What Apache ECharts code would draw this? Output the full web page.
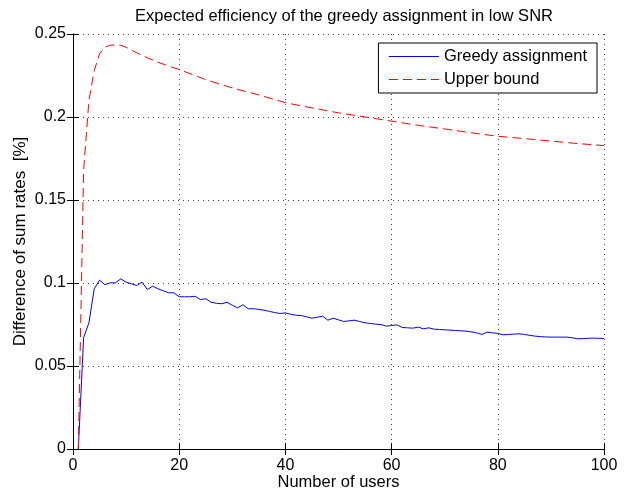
<!DOCTYPE html>
<html lang="en">
<head>
    <meta charset="UTF-8">
    <title>Expected efficiency of the greedy assignment</title>
    <script src="https://cdn.jsdelivr.net/npm/echarts@6/dist/echarts.min.js"></script>
</head>
<body style="margin:0;background:#fff;">
    <div id="chart" style="width:626px;height:491px;"></div>
    <script>
        // x values: number of users
        var users = Array.from({ length: 100 }, (_, i) => i + 1);
        // Greedy assignment, one value per user count
        var greedy = [
            0, 0.067, 0.076, 0.0965, 0.1017, 0.099, 0.1001, 0.1001, 0.1025, 0.1005,
            0.0995, 0.0985, 0.1005, 0.0961, 0.0981, 0.0965, 0.0953, 0.0941, 0.0941, 0.0917,
            0.0917, 0.0917, 0.092, 0.09, 0.0905, 0.0884, 0.0878, 0.0875, 0.0884, 0.0866,
            0.085, 0.0869, 0.0845, 0.0845, 0.0841, 0.0836, 0.0829, 0.0822, 0.0816, 0.082,
            0.0812, 0.0806, 0.0804, 0.0796, 0.0788, 0.0794, 0.08, 0.0776, 0.0788, 0.0778,
            0.0768, 0.0772, 0.0776, 0.0768, 0.076, 0.0756, 0.0752, 0.075, 0.074, 0.0744,
            0.0748, 0.0732, 0.073, 0.0728, 0.0734, 0.0724, 0.073, 0.0722, 0.072, 0.0718,
            0.0716, 0.0714, 0.0712, 0.071, 0.0706, 0.07, 0.069, 0.0704, 0.07, 0.0696,
            0.0688, 0.069, 0.0692, 0.0694, 0.069, 0.0685, 0.068, 0.0677, 0.0675, 0.0674,
            0.0674, 0.0674, 0.0674, 0.067, 0.0664, 0.0665, 0.0667, 0.0668, 0.0667, 0.0666
        ];
        // Upper bound, read at selected user counts
        var boundX = [1, 2, 3, 4, 5, 6, 7, 8, 9, 10, 12, 14, 16, 18, 20, 25, 30, 35, 40, 45, 50, 55, 60, 65, 70, 75, 80, 85, 90, 95, 100];
        var boundY = [0, 0.168, 0.21, 0.228, 0.238, 0.242, 0.2432, 0.2435, 0.2432, 0.242, 0.2387, 0.2357, 0.233, 0.2307, 0.2286,
            0.2225, 0.2175, 0.2133, 0.2086, 0.2055, 0.2025, 0.2, 0.1975, 0.195, 0.1928, 0.1905, 0.1884, 0.187, 0.1855, 0.184, 0.1828];

        var font = '"Liberation Sans", Arial, sans-serif';
        var chart = echarts.init(document.getElementById('chart'));

        var mirrorAxis = {
            type: 'value',
            axisLine: { show: true, lineStyle: { color: '#000', width: 1 } },
            axisTick: { show: true, inside: true, length: 6, lineStyle: { color: '#000' } },
            axisLabel: { show: false },
            splitLine: { show: false }
        };

        var option = {
            backgroundColor: '#fff',
            animation: false,
            title: {
                text: 'Expected efficiency of the greedy assignment in low SNR',
                left: 339,
                textAlign: 'center',
                top: 3,
                textStyle: { fontFamily: font, fontSize: 16.5, fontWeight: 'normal', color: '#000' }
            },
            legend: {
                right: 29,
                top: 43,
                orient: 'vertical',
                itemWidth: 50,
                itemHeight: 10,
                itemGap: 6,
                padding: [5, 10, 5, 10],
                borderColor: '#000',
                borderWidth: 1,
                backgroundColor: '#fff',
                itemStyle: { opacity: 0 },
                lineStyle: { width: 1 },
                textStyle: { fontFamily: font, fontSize: 16.5, color: '#000' },
                data: ['Greedy assignment', 'Upper bound']
            },
            grid: { left: 73, right: 22, top: 34, bottom: 42, containLabel: false, outerBoundsMode: 'none' },
            xAxis: [{
                type: 'value',
                min: 0, max: 100, interval: 20,
                name: 'Number of users',
                nameLocation: 'middle',
                nameGap: 25,
                nameMoveOverlap: false,
                nameTextStyle: { fontFamily: font, fontSize: 16.5, color: '#000' },
                axisLine: { show: true, lineStyle: { color: '#000', width: 1 } },
                axisTick: { show: true, inside: true, length: 6, lineStyle: { color: '#000' } },
                axisLabel: { fontFamily: font, fontSize: 16, color: '#000', margin: 9 },
                splitLine: { show: true, lineStyle: { color: '#444', type: [1, 4], width: 1 } }
            }, Object.assign({}, mirrorAxis, { position: 'top', min: 0, max: 100, interval: 20 })],
            yAxis: [{
                type: 'value',
                min: 0, max: 0.25, interval: 0.05,
                name: 'Difference of sum rates  [%]',
                nameLocation: 'middle',
                nameGap: 44,
                nameMoveOverlap: false,
                nameTextStyle: { fontFamily: font, fontSize: 17, color: '#000' },
                axisLine: { show: true, lineStyle: { color: '#000', width: 1 } },
                axisTick: { show: true, inside: true, length: 6, lineStyle: { color: '#000' } },
                axisLabel: { fontFamily: font, fontSize: 16, color: '#000', margin: 7 },
                splitLine: { show: true, lineStyle: { color: '#444', type: [1, 4], width: 1 } }
            }, Object.assign({}, mirrorAxis, { position: 'right', min: 0, max: 0.25, interval: 0.05 })],
            series: [{
                name: 'Greedy assignment',
                type: 'line',
                symbol: 'none',
                data: users.map((u, i) => [u, greedy[i]]),
                lineStyle: { color: '#0000ff', width: 1 },
                itemStyle: { color: '#0000ff' }
            }, {
                name: 'Upper bound',
                type: 'line',
                symbol: 'none',
                data: boundX.map((u, i) => [u, boundY[i]]),
                lineStyle: { color: '#ff0000', width: 1, type: [9, 5] },
                itemStyle: { color: '#ff0000' }
            }]
        };
        chart.setOption(option);
    </script>
</body>
</html>
